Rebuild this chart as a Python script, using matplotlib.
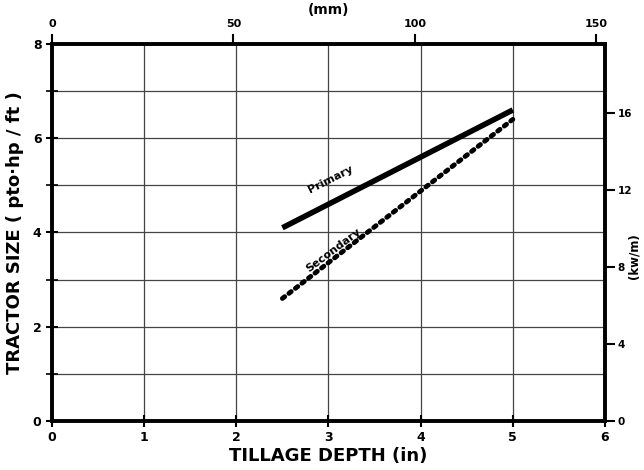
import matplotlib
matplotlib.use("Agg")
import matplotlib.pyplot as plt
import numpy as np

depth_in = [2.5, 5.0]
primary = [4.1, 6.6]
secondary = [2.6, 6.4]

x_ticks = [0, 1, 2, 3, 4, 5, 6]
y_ticks = [0, 2, 4, 6, 8]
mm_ticks = [0, 50, 100, 150]
kw_ticks = [0, 4, 8, 12, 16]

MM_PER_IN = 25.4
KW_PER_HPFT = 0.7457 / 0.3048

plt.rcParams['font.family'] = ['DejaVu Sans']
fig = plt.figure(figsize=(6.44, 4.70), dpi=100)
ax = fig.add_axes([0.0807, 0.1043, 0.8587, 0.8021])

ax.set_xlim(0, 6)
ax.set_ylim(0, 8)
ax.set_xticks(x_ticks)
ax.set_yticks(y_ticks)
ax.set_yticks(range(0, 9), minor=True)
ax.grid(True, which='both', color='#444444', linewidth=0.9)
ax.set_axisbelow(True)
for s in ax.spines.values():
    s.set_linewidth(2.8)
    s.set_color('black')
ax.tick_params(axis='both', which='both', direction='inout', length=8, width=1.5,
               labelsize=9, colors='black')
ax.tick_params(axis='y', which='minor', length=8, width=1.2)

ax.plot(depth_in, primary, color='black', linewidth=4, solid_capstyle='butt')
ax.plot(depth_in, secondary, color='black', linewidth=3.5, linestyle=(0, (0.6, 1.1)),
        dash_capstyle='round')

ax.text(3.02, 5.12, 'Primary', rotation=27, fontsize=8, fontweight='bold',
        ha='center', va='center')
ax.text(3.05, 3.62, 'Secondary', rotation=37, fontsize=8, fontweight='bold',
        ha='center', va='center')

ax.set_xlabel('TILLAGE DEPTH (in)', fontsize=13, fontweight='bold', labelpad=2)
ax.set_ylabel('TRACTOR SIZE ( pto·hp / ft )', fontsize=13, fontweight='bold', labelpad=6)
for lab in ax.get_xticklabels() + ax.get_yticklabels():
    lab.set_fontweight('bold')

top = ax.secondary_xaxis('top', functions=(lambda x: x * MM_PER_IN, lambda m: m / MM_PER_IN))
top.set_xticks(mm_ticks)
top.tick_params(direction='out', length=7, width=1.5, labelsize=8)
top.set_xlabel('(mm)', fontsize=10, fontweight='bold', labelpad=4)
for lab in top.get_xticklabels():
    lab.set_fontweight('bold')

right = ax.secondary_yaxis('right', functions=(lambda y: y * KW_PER_HPFT, lambda k: k / KW_PER_HPFT))
right.set_yticks(kw_ticks)
right.tick_params(direction='out', length=7, width=1.5, labelsize=7.5, pad=2)
for lab in right.get_yticklabels():
    lab.set_fontweight('bold')
fig.text(0.984, 0.455, '(kw/m)', rotation=90, fontsize=8.5, fontweight='bold',
         ha='center', va='center')

fig.savefig('out.png', dpi=100, facecolor='white')
